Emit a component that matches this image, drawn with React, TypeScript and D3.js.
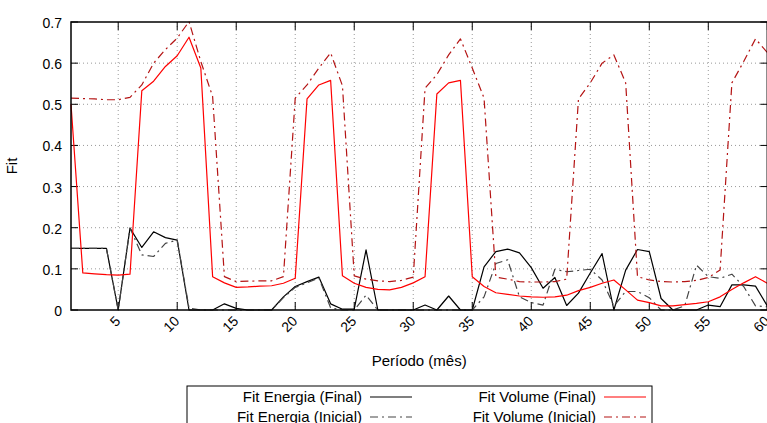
import React from "react";
import * as d3 from "d3";

const months: number[] = d3.range(1, 61);

const energiaFinal: number[] = [
  0.150, 0.150, 0.150, 0.150, 0.000, 0.199, 0.152, 0.190, 0.176, 0.170,
  0.000, 0.000, 0.000, 0.015, 0.004, 0.000, 0.000, 0.000, 0.032, 0.057,
  0.069, 0.080, 0.015, 0.002, 0.002, 0.146, 0.000, 0.000, 0.000, 0.000,
  0.012, 0.000, 0.034, 0.000, 0.000, 0.105, 0.142, 0.148, 0.139, 0.103,
  0.053, 0.079, 0.011, 0.041, 0.090, 0.137, 0.000, 0.097, 0.147, 0.142,
  0.028, 0.000, 0.000, 0.000, 0.012, 0.008, 0.061, 0.061, 0.058, 0.010,
];

const energiaInicial: number[] = [
  0.150, 0.150, 0.150, 0.150, 0.000, 0.199, 0.134, 0.130, 0.162, 0.170,
  0.005, 0.000, 0.000, 0.000, 0.000, 0.000, 0.000, 0.000, 0.030, 0.055,
  0.066, 0.078, 0.005, 0.000, 0.000, 0.036, 0.000, 0.000, 0.000, 0.000,
  0.000, 0.000, 0.000, 0.000, 0.000, 0.032, 0.113, 0.122, 0.032, 0.018,
  0.012, 0.099, 0.093, 0.096, 0.099, 0.073, 0.010, 0.045, 0.045, 0.030,
  0.000, 0.000, 0.010, 0.109, 0.081, 0.077, 0.087, 0.057, 0.010, 0.008,
];

const volumeFinal: number[] = [
  0.500, 0.090, 0.088, 0.086, 0.085, 0.087, 0.533, 0.556, 0.592, 0.618,
  0.663, 0.588, 0.081, 0.066, 0.055, 0.056, 0.058, 0.059, 0.065, 0.077,
  0.513, 0.547, 0.558, 0.083, 0.065, 0.055, 0.050, 0.049, 0.055, 0.066,
  0.081, 0.525, 0.552, 0.558, 0.081, 0.057, 0.042, 0.038, 0.034, 0.032,
  0.031, 0.032, 0.036, 0.047, 0.055, 0.065, 0.073, 0.049, 0.024, 0.018,
  0.010, 0.010, 0.013, 0.016, 0.020, 0.032, 0.050, 0.066, 0.081, 0.065,
];

const volumeInicial: number[] = [
  0.515, 0.514, 0.513, 0.511, 0.511, 0.517, 0.547, 0.600, 0.633, 0.661,
  0.701, 0.604, 0.519, 0.081, 0.069, 0.070, 0.071, 0.071, 0.081, 0.515,
  0.547, 0.588, 0.625, 0.545, 0.083, 0.075, 0.071, 0.069, 0.072, 0.080,
  0.539, 0.572, 0.620, 0.659, 0.588, 0.515, 0.080, 0.075, 0.069, 0.068,
  0.068, 0.069, 0.075, 0.513, 0.552, 0.600, 0.620, 0.552, 0.081, 0.073,
  0.069, 0.068, 0.069, 0.072, 0.079, 0.097, 0.552, 0.604, 0.659, 0.626,
];

const xTicks: number[] = [5, 10, 15, 20, 25, 30, 35, 40, 45, 50, 55, 60];
const yTicks: number[] = [0, 0.1, 0.2, 0.3, 0.4, 0.5, 0.6, 0.7];
const yTickLabels: string[] = ["0", "0.1", "0.2", "0.3", "0.4", "0.5", "0.6", "0.7"];

const xLabel = "Período (mês)";
const yLabel = "Fit";

const seriesNames: string[] = [
  "Fit Energia (Final)",
  "Fit Energia (Inicial)",
  "Fit Volume (Final)",
  "Fit Volume (Inicial)",
];

const FONT = "'Liberation Sans', Arial, Helvetica, sans-serif";
const W = 767;
const H = 423;
const L = 71;
const R = 767.3;
const T = 22;
const B = 310;

export default function App() {
  const x = d3.scaleLinear().domain([1, 60]).range([L, R]);
  const y = d3.scaleLinear().domain([0, 0.7]).range([B, T]);

  const mk = (vals: number[]) =>
    d3
      .line<number>()
      .x((_, i) => x(months[i]))
      .y((d) => y(d))(vals) || "";

  const dashDot = "8,4,2,4";
  const series = [
    { vals: energiaFinal, color: "#000000", dash: undefined as string | undefined },
    { vals: energiaInicial, color: "#444444", dash: dashDot },
    { vals: volumeFinal, color: "#ff0000", dash: undefined as string | undefined },
    { vals: volumeInicial, color: "#b41414", dash: dashDot },
  ];

  // legend layout
  const legX = 187;
  const legY = 386;
  const legW = 465;
  const rowH = 20;
  const legendItems = [
    { name: seriesNames[0], s: series[0], textX: 362, lx1: 370, lx2: 412, row: 0 },
    { name: seriesNames[1], s: series[1], textX: 362, lx1: 370, lx2: 412, row: 1 },
    { name: seriesNames[2], s: series[2], textX: 596, lx1: 604, lx2: 646, row: 0 },
    { name: seriesNames[3], s: series[3], textX: 596, lx1: 604, lx2: 646, row: 1 },
  ];

  return (
    <svg
      width={W}
      height={H}
      style={{ position: "absolute", left: 0, top: 0, background: "#fff" }}
      fontFamily={FONT}
    >
      <rect x={0} y={0} width={W} height={H} fill="#fff" />
      {/* grid */}
      <g stroke="#999" strokeWidth={1} strokeDasharray="1,3">
        {yTicks.slice(1, -1).map((t) => (
          <line key={"gy" + t} x1={L} x2={R} y1={y(t)} y2={y(t)} />
        ))}
        {xTicks.slice(0, -1).map((t) => (
          <line key={"gx" + t} x1={x(t)} x2={x(t)} y1={T} y2={B} />
        ))}
      </g>
      {/* ticks */}
      <g stroke="#000" strokeWidth={1}>
        {yTicks.map((t) => (
          <g key={"ty" + t}>
            <line x1={L} x2={L + 7} y1={y(t)} y2={y(t)} />
            <line x1={R - 7} x2={R} y1={y(t)} y2={y(t)} />
          </g>
        ))}
        {xTicks.map((t) => (
          <g key={"tx" + t}>
            <line x1={x(t)} x2={x(t)} y1={B} y2={B - 8} />
            <line x1={x(t)} x2={x(t)} y1={T} y2={T + 8} />
          </g>
        ))}
      </g>
      {/* data */}
      <g fill="none" strokeWidth={1.2} strokeLinejoin="round">
        {series.map((s, i) => (
          <path key={i} d={mk(s.vals)} stroke={s.color} strokeDasharray={s.dash} />
        ))}
      </g>
      {/* frame */}
      <rect x={L} y={T} width={R - L} height={B - T} fill="none" stroke="#000" strokeWidth={1.5} />
      {/* y tick labels */}
      <g fontSize={14} textAnchor="end" fill="#000">
        {yTicks.map((t, i) => (
          <text key={"yl" + t} x={62} y={y(t) + 6}>
            {yTickLabels[i]}
          </text>
        ))}
      </g>
      {/* x tick labels */}
      <g fontSize={14} textAnchor="end" fill="#000">
        {xTicks.map((t) => (
          <text key={"xl" + t} transform={`translate(${x(t) + 3},${322}) rotate(-45)`}>
            {t}
          </text>
        ))}
      </g>
      {/* axis labels */}
      <text x={(L + R) / 2} y={366} fontSize={15} textAnchor="middle">
        {xLabel}
      </text>
      <text transform={`translate(17,${(T + B) / 2}) rotate(-90)`} fontSize={15} textAnchor="middle">
        {yLabel}
      </text>
      {/* legend */}
      <rect x={legX} y={legY} width={legW} height={60} fill="#fff" stroke="#000" strokeWidth={1} />
      {legendItems.map((it) => {
        const cy = legY + 11 + it.row * rowH;
        return (
          <g key={it.name}>
            <text x={it.textX} y={cy + 5} fontSize={15} textAnchor="end">
              {it.name}
            </text>
            <line
              x1={it.lx1}
              x2={it.lx2}
              y1={cy}
              y2={cy}
              stroke={it.s.color}
              strokeWidth={1.2}
              strokeDasharray={it.s.dash}
            />
          </g>
        );
      })}
    </svg>
  );
}
